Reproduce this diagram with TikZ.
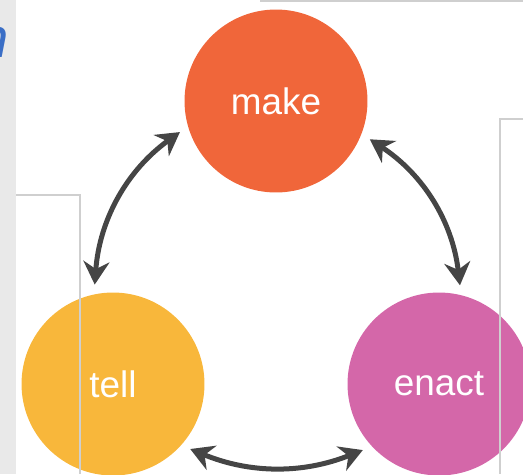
\documentclass[tikz,border=0pt]{standalone}
\usepackage{fontspec}
\newfontfamily\labelfont{Liberation Sans}
\usetikzlibrary{arrows.meta}
\definecolor{makecol}{HTML}{F0663A}
\definecolor{tellcol}{HTML}{F8B73B}
\definecolor{enactcol}{HTML}{D467A9}
\definecolor{arrowcol}{HTML}{454545}
\definecolor{framecol}{HTML}{CFCFCF}
\definecolor{stripcol}{HTML}{E9E9E9}
\definecolor{titleblue}{HTML}{3A6EC6}
\begin{document}
\begin{tikzpicture}[x=0.02cm, y=-0.02cm,
    phase/.style={circle, minimum size=3.66cm, inner sep=0pt, outer sep=0pt,
      text=white, font=\labelfont\fontsize{21}{25}\selectfont},
    cycle/.style={line width=0.1cm, draw=arrowcol,
      {Stealth[length=0.46cm, width=0.52cm]}-{Stealth[length=0.46cm, width=0.52cm]},
      shorten <=0.2cm, shorten >=0.2cm},
    frame/.style={draw=framecol, line width=0.6pt}]
      \useasboundingbox (0,0) rectangle (523,474);
      \clip (0,0) rectangle (523,474);
      % Draw the grey strip on the left
      \fill[stripcol] (0,0) rectangle (16,474);
      \node[anchor=east, inner sep=0pt, text=titleblue,
        font=\labelfont\itshape\fontsize{32}{36}\selectfont] (title) at (9,42) {n};
      % Place the nodes
      \node[phase, fill=makecol] (make) at (276,101) {make};
      \node[phase, fill=tellcol] (tell) at (113,384) {tell};
      \node[phase, fill=enactcol] (enact) at (439,384) {enact};
      % Draw the frame lines
      \draw[frame] (260,1) -- (523,1);
      \draw[frame] (16,195) -- (80,195) -- (80,474);
      \draw[frame] (523,119) -- (500,119) -- (500,474);
      % Draw arrows between the phases
      \draw[cycle] (make.196) to[bend right=25] (tell.102);
      \draw[cycle] (make.339) to[bend left=25] (enact.76);
      \draw[cycle] (tell.318) to[bend right=22] (enact.223);
    \end{tikzpicture}
\end{document}
